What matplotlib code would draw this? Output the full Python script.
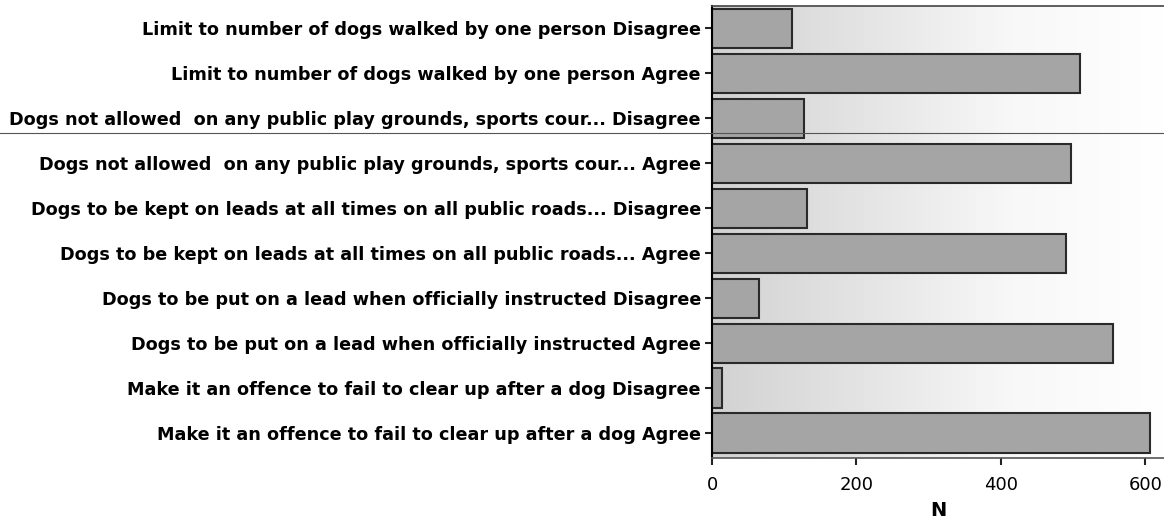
import numpy as np
import matplotlib
matplotlib.use("Agg")
import matplotlib.pyplot as plt

# Data (top to bottom as in the chart)
categories = [
    "Limit to number of dogs walked by one person Disagree",
    "Limit to number of dogs walked by one person Agree",
    "Dogs not allowed  on any public play grounds, sports cour... Disagree",
    "Dogs not allowed  on any public play grounds, sports cour... Agree",
    "Dogs to be kept on leads at all times on all public roads... Disagree",
    "Dogs to be kept on leads at all times on all public roads... Agree",
    "Dogs to be put on a lead when officially instructed Disagree",
    "Dogs to be put on a lead when officially instructed Agree",
    "Make it an offence to fail to clear up after a dog Disagree",
    "Make it an offence to fail to clear up after a dog Agree",
]
counts = [111, 510, 128, 497, 132, 490, 65, 555, 14, 607]
xticks = [0, 200, 400, 600]

plt.rcParams['font.family'] = ['DejaVu Sans']

fig = plt.figure(figsize=(11.64, 5.28), dpi=100, facecolor='w')
ax = fig.add_axes([712/1164, 1-458/528, (1164-712)/1164, (458-6)/528])

ypos = np.arange(len(categories))[::-1]
xmax = 626
ax.set_xlim(0, xmax)
ax.set_ylim(-0.55, len(categories) - 0.5)

# gradient background, grey on the left fading to white on the right
grad = np.linspace(0, 1, 256).reshape(1, -1)
ax.imshow(grad, extent=[0, xmax, -0.55, len(categories) - 0.5], aspect='auto',
          cmap=matplotlib.colors.LinearSegmentedColormap.from_list(
              'bg', ['#d2d2d2', '#e4e4e4', '#f8f8f8', '#ffffff']), zorder=0)

ax.barh(ypos, counts, height=0.88, color='#a5a5a5', edgecolor='#2a2a2a',
        linewidth=1.5, zorder=2)

ax.set_yticks(ypos)
ax.set_yticklabels(categories, fontsize=12.7, fontweight='bold')
ax.set_xticks(xticks)
ax.set_xticklabels([str(v) for v in xticks], fontsize=13)
ax.set_xlabel("N", fontsize=14, fontweight='bold', labelpad=5)
ax.tick_params(axis='y', length=5, width=1.5, color='#222222', pad=3)
ax.tick_params(axis='x', length=5, width=1.5, color='#222222', pad=8)

ax.spines['right'].set_visible(False)
ax.spines['left'].set_linewidth(1.5)
ax.spines['bottom'].set_linewidth(1.2)
ax.spines['bottom'].set_color('#555555')
ax.spines['top'].set_linewidth(1.2)
ax.spines['top'].set_color('#444444')

# scan line across the page
fig.add_artist(plt.Line2D([0, 1], [1-133/528, 1-133/528], color='#555555', lw=0.8,
                          transform=fig.transFigure))

fig.savefig("out.png", dpi=100)
